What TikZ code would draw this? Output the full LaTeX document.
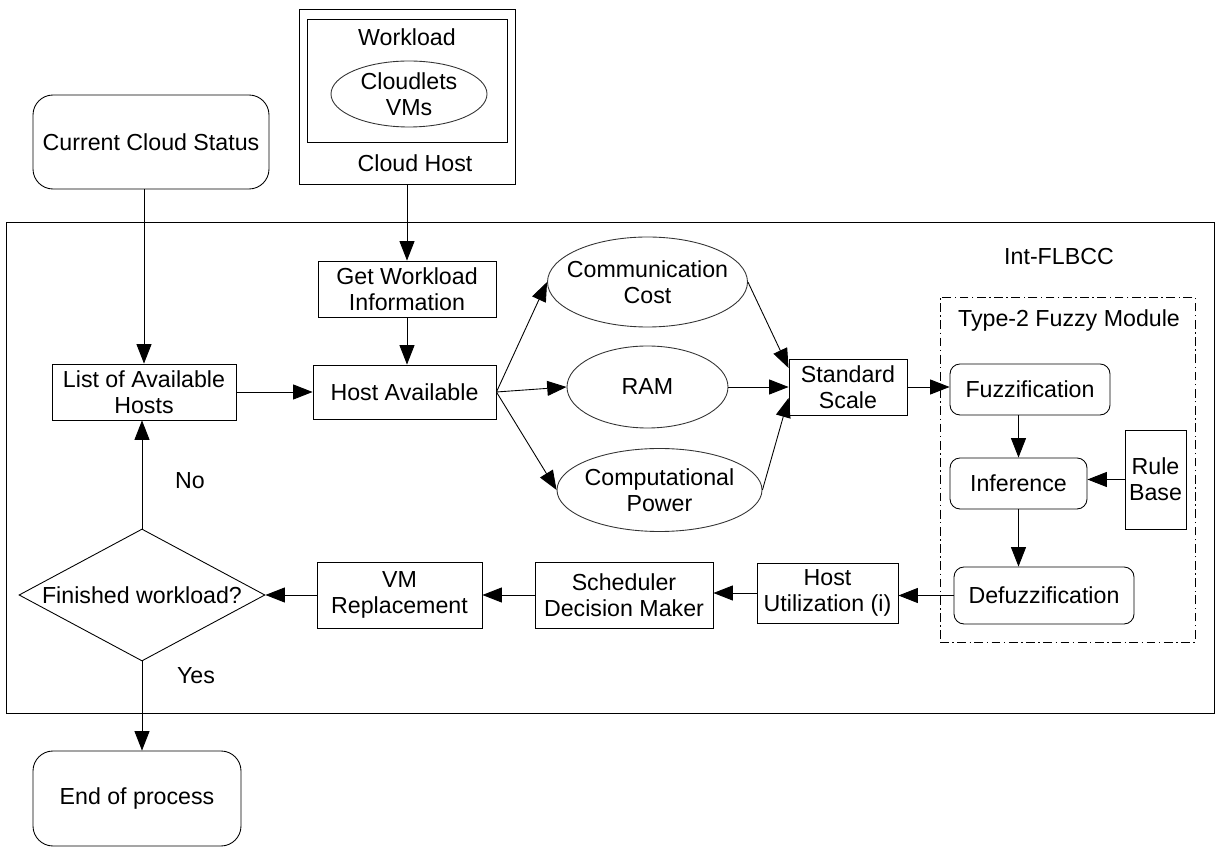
\documentclass[tikz,border=0pt]{standalone}
\usepackage{fontspec}
\setmainfont{Liberation Sans}
\usepackage{tikz}
\usetikzlibrary{arrows.meta}
\usetikzlibrary{shapes}

\begin{document}
\begin{tikzpicture}[x=1cm, y=-1cm, line width=0.5pt,
	font=\fontsize{13.2pt}{14.8pt}\selectfont,
	frame/.style={draw=black, fill=none, inner sep=0pt},
	box/.style={draw=black, fill=white, align=center, inner sep=0pt},
	rbox/.style={box, rounded corners=0.2cm},
	bigrbox/.style={box, rounded corners=0.4cm},
	oval/.style={draw=black!80, fill=white, shape=ellipse, align=center, inner xsep=-6pt, inner ysep=0pt},
	txt/.style={align=center, inner sep=0pt},
	arr/.style={fill=none, -{Triangle[length=11pt, width=8.5pt]}}]
	\useasboundingbox (0, 0) rectangle (24.38, 17.10);

	\node [frame, minimum width=24.16cm, minimum height=9.82cm] (outer) at (12.2, 9.35) {};
	\node [frame, dash pattern=on 5pt off 2pt on 0.8pt off 2pt, minimum width=5.1cm, minimum height=6.9cm] (module) at (21.35, 9.39) {};
	\node [txt] (outertxt) at (21.18, 5.14) {Int-FLBCC};
	\node [txt] (moduletxt) at (21.38, 6.42) {Type-2 Fuzzy Module};

	\node [box, minimum width=4.32cm, minimum height=3.5cm] (host) at (8.14, 1.93) {};
	\node [box, minimum width=4.0cm, minimum height=2.46cm] (wl) at (8.14, 1.61) {};
	\node [txt] (wltxt) at (8.14, 0.74) {Workload};
	\node [oval, minimum width=3.12cm, minimum height=1.32cm] (cl) at (8.18, 1.88) {Cloudlets\\VMs};
	\node [txt] (hosttxt) at (8.30, 3.26) {Cloud Host};

	\node [bigrbox, minimum width=4.72cm, minimum height=1.88cm] (status) at (3.02, 2.84) {Current Cloud Status};
	\node [box, minimum width=3.56cm, minimum height=1.12cm] (getinfo) at (8.14, 5.78) {Get Workload\\Information};
	\node [box, minimum width=3.66cm, minimum height=1.08cm] (avail) at (8.09, 7.84) {Host Available};
	\node [box, minimum width=3.68cm, minimum height=1.12cm] (list) at (2.88, 7.84) {List of Available\\Hosts};

	\node [oval, minimum width=4.0cm, minimum height=1.8cm] (comm) at (12.95, 5.64) {Communication\\Cost};
	\node [oval, minimum width=3.22cm, minimum height=1.64cm] (ram) at (12.95, 7.74) {RAM};
	\node [oval, minimum width=4.1cm, minimum height=1.66cm] (comp) at (13.19, 9.80) {Computational\\Power};
	\node [box, minimum width=2.36cm, minimum height=1.12cm] (scale) at (16.96, 7.74) {Standard\\Scale};

	\node [rbox, minimum width=3.2cm, minimum height=1.02cm] (fuzz) at (20.6, 7.79) {Fuzzification};
	\node [rbox, minimum width=2.74cm, minimum height=1.02cm] (infer) at (20.37, 9.67) {Inference};
	\node [box, minimum width=1.22cm, minimum height=1.98cm] (rule) at (23.11, 9.59) {Rule\\Base};
	\node [rbox, minimum width=3.6cm, minimum height=1.14cm] (defuzz) at (20.88, 11.91) {Defuzzification};

	\node [box, minimum width=2.82cm, minimum height=1.2cm] (util) at (16.55, 11.86) {Host\\Utilization (i)};
	\node [box, minimum width=3.56cm, minimum height=1.32cm] (sched) at (12.48, 11.9) {Scheduler\\Decision Maker};
	\node [box, minimum width=3.3cm, minimum height=1.32cm] (vmrep) at (7.99, 11.9) {VM\\Replacement};
	\node [draw=black, fill=white, shape=diamond, aspect=1.86, inner sep=0pt, minimum width=4.92cm, minimum height=2.64cm] (done) at (2.84, 11.9) {Finished workload?};
	\node [bigrbox, minimum width=4.16cm, minimum height=1.9cm] (endp) at (2.74, 15.97) {End of process};

	\node [txt] (notxt) at (3.8, 9.62) {No};
	\node [txt] (yestxt) at (3.92, 13.52) {Yes};

	\draw [arr] (list.north |- status.south) to (list.north);
	\draw [arr] (host.south) to (getinfo.north);
	\draw [arr] (getinfo.south) to (getinfo.south |- avail.north);
	\draw [arr] (list.east) to (avail.west);

	\draw [arr] (avail.east) to (comm.west);
	\draw [arr] (avail.east) to (ram.west);
	\draw [arr] (avail.east) to (comp.west);

	\draw [arr] (comm.east) to ([yshift=0.38cm]scale.west);
	\draw [arr] (ram.east) to (ram.east -| scale.west);
	\draw [arr] (comp.east) to ([yshift=-0.22cm]scale.west);
	\draw [arr] (scale.east) to (scale.east -| fuzz.west);

	\draw [arr] (fuzz.south -| infer.north) to (infer.north);
	\draw [arr] (rule.west) to (rule.west -| infer.east);
	\draw [arr] (infer.south) to (infer.south |- defuzz.north);

	\draw [arr] (defuzz.west) to (defuzz.west -| util.east);
	\draw [arr] (util.west) to (util.west -| sched.east);
	\draw [arr] (sched.west) to (vmrep.east);
	\draw [arr] (vmrep.west) to (done.east);

	\draw [arr] (done.north) to (done.north |- list.south);
	\draw [arr] (done.south) to (done.south |- endp.north);
\end{tikzpicture}
\end{document}
